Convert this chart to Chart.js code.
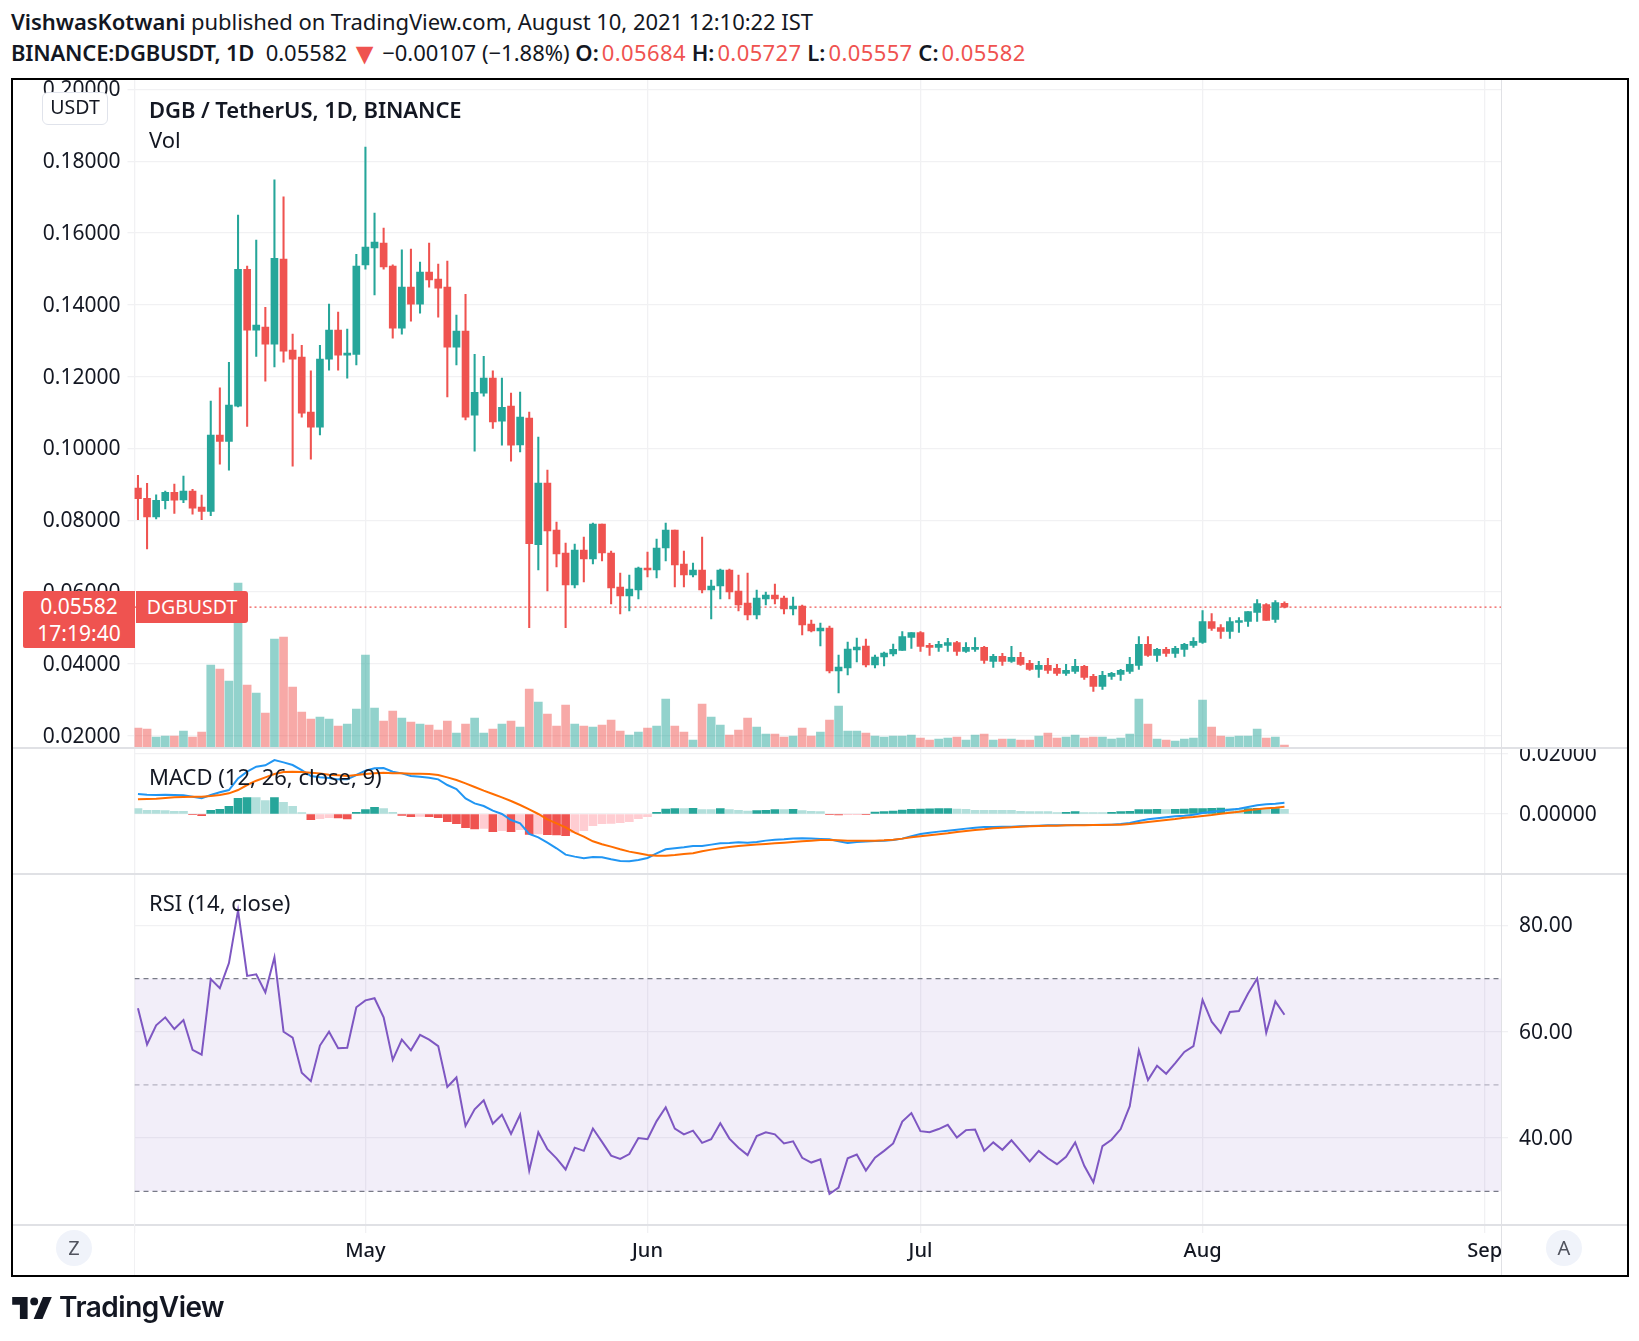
<!DOCTYPE html>
<html>
<head>
<meta charset="utf-8">
<title>DGB / TetherUS</title>
<script src="https://cdn.jsdelivr.net/npm/chart.js@4"></script>
<style>
    html, body { margin: 0; padding: 0; background: #fff; }
    body { width: 1639px; height: 1341px; position: relative; overflow: hidden; font-family: "Noto Sans", sans-serif; color: #131722; }
    canvas { position: absolute; left: 12px; }
    .txt { position: absolute; white-space: nowrap; line-height: 1; }
    .b { font-weight: 600; }
    .r { color: #ef5350; letter-spacing: 0.4px; }
    .lab { font-weight: 600; margin-right: 3px; }
    .tri { color: #ef5350; font-size: 30px; line-height: 0; vertical-align: -3px; margin: 0 -3px 0 -3px; }
    .frame { position: absolute; left: 11px; top: 78px; width: 1614px; height: 1195px; border: 2.5px solid #000; pointer-events: none; }
    .sep { position: absolute; background: #e0e1e5; }
    .round { position: absolute; width: 36px; height: 36px; border-radius: 18px; background: #f0f3fa; color: #50535e; font-size: 20px; line-height: 36px; text-align: center; top: 1230px; }
</style>
</head>
<body>
<div class="txt" style="left:11px;top:10px;font-size:22px;letter-spacing:-0.05px"><span class="b">VishwasKotwani</span> published on TradingView.com, August 10, 2021 12:10:22 IST</div>
<div class="txt" style="left:11px;top:41px;font-size:22px"><span class="b" style="letter-spacing:-0.2px">BINANCE:DGBUSDT, 1D</span>&nbsp; 0.05582 <span class="tri">▼</span> −0.00107 (−1.88%) <span class="lab">O:</span><span class="r">0.05684</span> <span class="lab">H:</span><span class="r">0.05727</span> <span class="lab">L:</span><span class="r">0.05557</span> <span class="lab">C:</span><span class="r">0.05582</span></div>

<canvas id="mainPane" width="1615" height="668" style="top:79px"></canvas>
<canvas id="macdPane" width="1615" height="126" style="top:747px"></canvas>
<canvas id="rsiPane" width="1615" height="402" style="top:873px"></canvas>

<div class="sep" style="left:12px;top:747px;width:1615px;height:1.5px"></div>
<div class="sep" style="left:12px;top:873px;width:1615px;height:1.5px"></div>
<div class="sep" style="left:12px;top:1224px;width:1615px;height:1.5px"></div>
<div class="sep" style="left:1501px;top:79px;width:1px;height:1196px"></div>
<div class="sep" style="left:134px;top:1224px;width:1px;height:51px;background:#f1f1f3"></div>

<div class="txt b" style="left:149px;top:98px;font-size:22px;letter-spacing:-0.08px">DGB / TetherUS, 1D, BINANCE</div>
<div class="txt" style="left:149px;top:128px;font-size:22px">Vol</div>
<div class="txt" style="left:149px;top:765px;font-size:22px">MACD (12, 26, close, 9)</div>
<div class="txt" style="left:149px;top:891px;font-size:22px">RSI (14, close)</div>

<div class="txt" style="left:42px;top:92px;width:64px;height:31px;line-height:27px;text-align:center;font-size:19.5px;background:#fff;border:1px solid #e0e3eb;border-radius:6px;box-sizing:content-box">USDT</div>

<div class="txt" style="left:23px;top:591px;width:112px;height:57px;background:#ef5350;color:#fff;border-radius:2px 0 0 2px;text-align:center;font-size:21px;line-height:27px;padding-top:2px;box-sizing:border-box">0.05582<br>17:19:40</div>
<div class="txt" style="left:136px;top:591px;width:112px;height:32px;background:#ef5350;color:#fff;border-radius:0 3px 3px 0;text-align:center;font-size:19.5px;line-height:31px">DGBUSDT</div>

<div class="round" style="left:56px">Z</div>
<div class="round" style="left:1546px">A</div>

<svg style="position:absolute;left:11px;top:1297px" width="42" height="22" viewBox="0 0 36 20">
    <path d="M0 0h14v20H7V7H0z" fill="#131722"/>
    <circle cx="20" cy="4" r="3.6" fill="#131722"/>
    <path d="M28 0h8l-8.5 20h-8z" fill="#131722"/>
</svg>
<div class="txt" style="left:59px;top:1293px;font-size:28px;font-weight:600;font-family:Inter,sans-serif;letter-spacing:-0.5px">TradingView</div>

<div class="frame"></div>

<script>
// =================== chart data =======================
const opens = [
    .08898, .08612, .08094, .08546, .08777, .08568, .08811, .08369, .08248, .10375,
    .10199, .11179, .14992, .13295, .13383, .12909, .15278, .12744, .12546, .11014,
    .10595, .12490, .13295, .12601, .12623, .15113, .15587, .15719, .15080, .13350,
    .14496, .14022, .14915, .14716, .14496, .12821, .13273, .10926, .11543, .11962,
    .10761, .11179, .10097, .10849, .07321, .09038, .07729, .07088, .06197, .07172,
    .06921, .07896, .07088, .06141, .05891, .06058, .06671, .06615, .07228, .07729,
    .06782, .06476, .06615, .06058, .06169, .06615, .06030, .05696, .05361, .05807,
    .05918, .05835, .05528, .05612, .05111, .04916, .04999, .03801, .03885, .04386,
    .04498, .03969, .04191, .04275, .04375, .04736, .04875, .04514, .04459, .04514,
    .04597, .04348, .04403, .04459, .04070, .04209, .04070, .04181, .04014, .03848,
    .03959, .03875, .03736, .03792, .03931, .03653, .03375, .03653, .03709, .03792,
    .03959, .04542, .04236, .04403, .04292, .04403, .04514, .04597, .05181, .05014,
    .04903, .05153, .05181, .05431, .05653, .05236, .05684
];
const highs = [
    .09251, .09030, .08711, .08811, .09009, .09229, .08865, .08700, .11323, .11687,
    .12402, .16502, .15080, .15807, .13934, .17482, .17008, .13184, .12876, .12160,
    .12876, .14022, .13802, .13328, .15411, .18397, .16557, .16138, .15113, .15532,
    .15554, .15191, .15719, .15135, .15223, .13714, .14297, .12623, .12568, .12160,
    .11962, .11543, .11573, .11016, .10320, .09400, .07952, .07367, .07339, .07534,
    .07924, .07896, .07144, .06531, .06476, .06698, .07116, .07478, .07924, .07729,
    .07144, .06810, .07534, .06336, .06643, .06643, .06476, .06531, .06058, .06002,
    .06225, .05891, .05863, .05640, .05222, .05139, .05055, .04247, .04609, .04721,
    .04693, .04247, .04331, .04554, .04903, .04875, .04903, .04570, .04625, .04709,
    .04625, .04597, .04736, .04486, .04264, .04292, .04486, .04320, .04098, .04070,
    .04153, .03986, .03986, .04125, .03959, .03709, .03792, .03764, .03848, .04181,
    .04764, .04764, .04431, .04459, .04486, .04570, .04736, .05486, .05403, .05097,
    .05292, .05292, .05459, .05792, .05681, .05764, .05727
];
const lows = [
    .08017, .07201, .08039, .08315, .08193, .08491, .08171, .08017, .08127, .09560,
    .09395, .11158, .10618, .12568, .11874, .12270, .12402, .09504, .10871, .09703,
    .10375, .12182, .12182, .11962, .12326, .14992, .14276, .14992, .13075, .13184,
    .13548, .13769, .14496, .13658, .11433, .12326, .10794, .09923, .11455, .10562,
    .10089, .09648, .09902, .05009, .06615, .06030, .06698, .05009, .06113, .06281,
    .06782, .06866, .05668, .05389, .05473, .05807, .06420, .06392, .06866, .06141,
    .06141, .06420, .05974, .05250, .05807, .05807, .05473, .05222, .05250, .05640,
    .05668, .05389, .05361, .04804, .04888, .04498, .03746, .03189, .03690, .04052,
    .03913, .03885, .03941, .04219, .04375, .04431, .04348, .04236, .04348, .04348,
    .04236, .04320, .04348, .04014, .03903, .03959, .04042, .03959, .03820, .03625,
    .03736, .03681, .03681, .03736, .03570, .03236, .03292, .03570, .03542, .03736,
    .03848, .04209, .04070, .04209, .04181, .04209, .04459, .04570, .04931, .04709,
    .04709, .04875, .05042, .05181, .05209, .05153, .05557
];
const closes = [
    .08600, .08094, .08557, .08777, .08557, .08811, .08336, .08248, .10375, .10199,
    .11212, .14992, .13295, .13438, .12909, .15300, .12711, .12490, .10981, .10595,
    .12490, .13295, .12601, .12656, .15080, .15609, .15752, .15058, .13350, .14496,
    .14022, .14915, .14695, .14463, .12821, .13273, .10871, .11565, .11962, .10739,
    .11146, .10089, .10877, .07348, .09038, .07701, .07061, .06197, .07172, .06921,
    .07896, .07088, .06113, .05891, .06086, .06671, .06615, .07228, .07729, .06754,
    .06476, .06615, .06058, .06169, .06615, .06002, .05640, .05361, .05835, .05918,
    .05807, .05528, .05612, .05083, .04916, .04999, .03801, .03913, .04414, .04470,
    .03969, .04191, .04303, .04403, .04764, .04875, .04486, .04459, .04542, .04597,
    .04348, .04459, .04459, .04098, .04209, .04070, .04181, .03986, .03848, .03959,
    .03820, .03736, .03820, .03931, .03625, .03375, .03681, .03736, .03820, .03986,
    .04542, .04236, .04403, .04292, .04431, .04542, .04625, .05181, .04986, .04903,
    .05181, .05209, .05459, .05681, .05209, .05709, .05582
];
const volumes = [
    19, 18, 10, 11, 11, 16, 10, 15, 82, 78,
    66, 164, 62, 54, 34, 108, 110, 60, 35, 28,
    30, 28, 21, 23, 38, 92, 39, 26, 36, 29,
    25, 23, 22, 17, 26, 14, 23, 29, 14, 18,
    23, 26, 20, 58, 45, 33, 21, 42, 23, 21,
    20, 22, 27, 16, 12, 15, 19, 21, 48, 21,
    15, 7, 43, 30, 22, 12, 17, 29, 20, 13,
    13, 10, 11, 19, 11, 15, 27, 41, 16, 16,
    14, 11, 10, 11, 11, 12, 9, 7, 8, 9,
    10, 7, 12, 13, 7, 8, 8, 7, 7, 11,
    14, 9, 10, 12, 9, 10, 10, 8, 9, 13,
    48, 23, 8, 7, 6, 8, 9, 47, 20, 11,
    10, 11, 11, 18, 9, 10, 2
];
const macdLine = [
    .00666, .00644, .00633, .00644, .00633, .00622, .00577, .00522, .00633, .00722,
    .00799, .01188, .01410, .01576, .01621, .01798, .01721, .01632, .01465, .01265,
    .01221, .01199, .01154, .01154, .01299, .01443, .01521, .01532, .01410, .01354,
    .01265, .01243, .01210, .01154, .00966, .00833, .00522, .00355, .00266, .00111,
    0, -.00200, -.00311, -.00666, -.00777, -.00955, -.01143, -.01354, -.01421, -.01476,
    -.01432, -.01443, -.01510, -.01565, -.01576, -.01532, -.01465, -.01310, -.01177, -.01143,
    -.01110, -.01066, -.01066, -.01021, -.00977, -.00966, -.00944, -.00955, -.00932, -.00888,
    -.00855, -.00844, -.00821, -.00810, -.00821, -.00833, -.00844, -.00910, -.00966, -.00932,
    -.00921, -.00899, -.00888, -.00866, -.00821, -.00744, -.00666, -.00622, -.00588, -.00555,
    -.00522, -.00488, -.00455, -.00433, -.00433, -.00422, -.00422, -.00411, -.00400, -.00389,
    -.00377, -.00377, -.00377, -.00366, -.00366, -.00366, -.00355, -.00355, -.00333, -.00300,
    -.00233, -.00178, -.00144, -.00111, -.00078, -.00056, -.00022, .00033, .00078, .00111,
    .00144, .00178, .00233, .00289, .00322, .00344, .00377
];
const signalLine = [
    .00488, .00500, .00511, .00533, .00555, .00566, .00577, .00577, .00599, .00633,
    .00688, .00799, .00966, .01110, .01221, .01332, .01399, .01410, .01399, .01376,
    .01354, .01310, .01288, .01265, .01299, .01332, .01354, .01376, .01354, .01354,
    .01343, .01343, .01332, .01299, .01221, .01132, .01021, .00899, .00777, .00666,
    .00555, .00433, .00300, .00155, 0, -.00178, -.00311, -.00444, -.00622, -.00755,
    -.00910, -.01010, -.01088, -.01177, -.01254, -.01310, -.01365, -.01388, -.01388, -.01365,
    -.01332, -.01310, -.01243, -.01188, -.01143, -.01099, -.01066, -.01043, -.01021, -.00999,
    -.00977, -.00955, -.00932, -.00910, -.00888, -.00866, -.00866, -.00877, -.00888, -.00888,
    -.00888, -.00888, -.00877, -.00855, -.00821, -.00777, -.00744, -.00710, -.00677, -.00644,
    -.00599, -.00566, -.00533, -.00511, -.00477, -.00455, -.00444, -.00422, -.00411, -.00400,
    -.00389, -.00389, -.00377, -.00377, -.00377, -.00366, -.00366, -.00355, -.00355, -.00333,
    -.00300, -.00266, -.00233, -.00200, -.00167, -.00122, -.00100, -.00067, -.00033, .00011,
    .00044, .00078, .00122, .00155, .00189, .00211, .00244
];
const macdHist = [
    .00178, .00122, .00122, .00111, .00089, .00089, -.00022, -.00056, .00122, .00155,
    .00255, .00522, .00544, .00544, .00444, .00544, .00389, .00255, .00044, -.00189,
    -.00155, -.00122, -.00133, -.00167, .00056, .00144, .00222, .00178, .00056, -.00044,
    -.00089, -.00078, -.00089, -.00122, -.00255, -.00322, -.00455, -.00500, -.00477, -.00588,
    -.00555, -.00588, -.00522, -.00677, -.00666, -.00688, -.00699, -.00722, -.00622, -.00555,
    -.00389, -.00322, -.00311, -.00289, -.00255, -.00155, -.00089, .00056, .00167, .00178,
    .00178, .00189, .00144, .00144, .00178, .00144, .00122, .00100, .00111, .00122,
    .00144, .00144, .00155, .00111, .00089, .00078, -.00022, -.00033, -.00011, -.00011,
    -.00022, .00067, .00078, .00100, .00133, .00155, .00167, .00172, .00178, .00183,
    .00167, .00155, .00122, .00122, .00122, .00122, .00122, .00089, .00078, .00078,
    .00078, .00044, .00056, .00078, .00044, .00044, .00044, .00056, .00078, .00089,
    .00144, .00150, .00155, .00144, .00155, .00161, .00178, .00183, .00189, .00200,
    .00178, .00167, .00178, .00189, .00167, .00178, .00155
];
const rsiValues = [
    64.4, 57.6, 61.2, 62.7, 60.5, 62.2, 56.6, 55.7, 69.9, 68.2,
    72.9, 82.8, 70.5, 70.8, 67.4, 74.0, 60.0, 58.9, 52.3, 50.7,
    57.4, 60.0, 56.9, 57.0, 64.6, 65.9, 66.3, 62.7, 54.7, 58.5,
    56.5, 59.4, 58.5, 57.3, 49.6, 51.4, 42.3, 45.4, 47.1, 42.7,
    44.4, 40.8, 44.4, 33.9, 41.1, 37.9, 36.2, 34.1, 38.2, 37.6,
    41.8, 39.3, 36.7, 36.1, 37.0, 40.0, 39.8, 43.2, 45.8, 41.8,
    40.7, 41.4, 39.1, 39.8, 42.8, 39.9, 38.2, 36.8, 40.4, 41.1,
    40.7, 39.0, 39.4, 36.3, 35.4, 36.0, 29.5, 30.7, 36.2, 36.9,
    33.9, 36.3, 37.6, 39.0, 43.1, 44.7, 41.3, 41.1, 41.7, 42.5,
    40.1, 41.5, 41.6, 37.6, 39.2, 37.8, 39.6, 37.6, 35.6, 37.6,
    36.2, 35.1, 36.5, 39.2, 34.8, 31.7, 38.5, 39.7, 41.7, 46.0,
    56.5, 50.9, 53.6, 52.1, 54.1, 56.2, 57.3, 66.0, 61.9, 59.8,
    63.7, 63.9, 67.2, 70.0, 59.8, 65.7, 63.2
];
const lastClose = 0.05582;
const priceTicks = [0.02, 0.04, 0.06, 0.08, 0.10, 0.12, 0.14, 0.16, 0.18, 0.20];
const macdTicks = [0, 0.02];
const rsiTicks = [40, 60, 80];
const rsiBands = { upper: 70, middle: 50, lower: 30 };
// days counted from Apr 6, the first candle
const monthTicks = [25, 56, 86, 117, 148];
const monthLabels = ['May', 'Jun', 'Jul', 'Aug', 'Sep'];
// =================== END CHART DATA ===================

const UP = '#26a69a', DOWN = '#ef5350';
const X_MIN = -0.38, X_MAX = 149.8;
const LEFT_W = 122.5, RIGHT_W = 126;
const GRID = '#f1f1f3', TEXT = '#131722';
const tickFont = { family: '"Noto Sans", sans-serif', size: 21 };

const days = closes.map((_, i) => i);
const series = (values) => values.map((v, i) => ({ x: i, y: v }));
const edgeLine = (v) => [{ x: X_MIN, y: v }, { x: X_MAX, y: v }];

// vertical month gridlines, shared by the three panes
function timeAxis(showLabels) {
    return {
        type: 'linear',
        min: X_MIN,
        max: X_MAX,
        offset: false,
        afterBuildTicks: (s) => { s.ticks = [X_MIN].concat(monthTicks).map(v => ({ value: v })); },
        afterFit: (s) => {
            s.height = showLabels ? 51 : 0;
            s.paddingLeft = 0;
            s.paddingRight = 0;
        },
        border: { display: false },
        grid: { color: GRID, lineWidth: 1.3, drawTicks: showLabels, tickLength: 9, offset: false },
        ticks: {
            display: showLabels,
            autoSkip: false,
            maxRotation: 0,
            padding: 6,
            color: TEXT,
            font: { family: tickFont.family, size: 20, weight: '500' },
            callback: (v) => {
                const idx = monthTicks.indexOf(v);
                return idx >= 0 ? monthLabels[idx] : '';
            }
        }
    };
}

function valueAxis(position, width, ticks, digits) {
    return {
        position: position,
        afterBuildTicks: (s) => { s.ticks = ticks.map(v => ({ value: v })); },
        afterFit: (s) => {
            s.width = width;
            s.paddingTop = 0;
            s.paddingBottom = 0;
        },
        border: { display: false },
        grid: { color: GRID, lineWidth: 1.3, tickLength: 7 },
        ticks: {
            autoSkip: false,
            padding: position === 'left' ? 7 : 11,
            labelOffset: 1,
            color: TEXT,
            font: tickFont,
            callback: (v) => v.toFixed(digits)
        }
    };
}

function baseOptions(padding, scales) {
    return {
        responsive: false,
        animation: false,
        events: [],
        layout: { padding: padding },
        plugins: { legend: { display: false }, tooltip: { enabled: false } },
        scales: scales
    };
}

// Candles and volume
function mainPane() {
    const ctx = document.getElementById('mainPane');
    const colors = closes.map((c, i) => (c >= opens[i] ? UP : DOWN));
    const priceAxis = valueAxis('left', LEFT_W, priceTicks, 5);
    priceAxis.min = 0.01685;
    priceAxis.max = 0.20292;
    return new Chart(ctx, {
        data: {
            datasets: [
                {
                    type: 'bar', label: 'Vol', yAxisID: 'yVol', grouped: false, order: 4,
                    data: days.map(i => ({ x: i, y: volumes[i] })),
                    backgroundColor: colors.map(c => c + '80'),
                    barThickness: 8
                },
                {
                    type: 'line', label: 'Last', yAxisID: 'y', order: 3,
                    data: edgeLine(lastClose),
                    borderColor: DOWN, borderWidth: 1.3, borderDash: [2, 3], pointRadius: 0
                },
                {
                    type: 'bar', label: 'Wick', yAxisID: 'y', grouped: false, order: 2,
                    data: days.map(i => ({ x: i, y: [lows[i], highs[i]] })),
                    backgroundColor: colors,
                    barThickness: 1.4
                },
                {
                    type: 'bar', label: 'Body', yAxisID: 'y', grouped: false, order: 1,
                    data: days.map(i => ({ x: i, y: [opens[i], closes[i]] })),
                    backgroundColor: colors,
                    barThickness: 7,
                    minBarLength: 2
                }
            ]
        },
        options: baseOptions({ right: RIGHT_W }, {
            x: timeAxis(false),
            y: priceAxis,
            yVol: { display: false, min: 0, max: 668 }
        })
    });
}

// Histogram shade follows the direction against the previous bar
function histColor(v, i) {
    const prev = i > 0 ? macdHist[i - 1] : v;
    if (v >= 0) return v > prev ? '#26a69a' : '#b2dfdb';
    return v < prev ? '#ef5350' : '#ffcdd2';
}

function macdPane() {
    const ctx = document.getElementById('macdPane');
    const axis = valueAxis('right', RIGHT_W, macdTicks, 5);
    axis.min = -0.01967;
    axis.max = 0.02233;
    return new Chart(ctx, {
        data: {
            datasets: [
                {
                    type: 'line', label: 'Signal', order: 1,
                    data: series(signalLine),
                    borderColor: '#ff6d00', borderWidth: 2, pointRadius: 0
                },
                {
                    type: 'line', label: 'MACD', order: 2,
                    data: series(macdLine),
                    borderColor: '#2196f3', borderWidth: 2, pointRadius: 0
                },
                {
                    type: 'bar', label: 'Histogram', grouped: false, order: 3,
                    data: series(macdHist),
                    backgroundColor: macdHist.map(histColor),
                    barThickness: 8
                }
            ]
        },
        options: baseOptions({ left: LEFT_W }, { x: timeAxis(false), y: axis })
    });
}

function rsiPane() {
    const ctx = document.getElementById('rsiPane');
    const axis = valueAxis('right', RIGHT_W, rsiTicks, 2);
    axis.min = 23.85;
    axis.max = 89.84;
    const dashed = { type: 'line', borderColor: '#787b86', borderWidth: 1.2, borderDash: [5, 4], pointRadius: 0 };
    return new Chart(ctx, {
        data: {
            datasets: [
                {
                    type: 'line', label: 'RSI', order: 1,
                    data: series(rsiValues),
                    borderColor: '#7e57c2', borderWidth: 2, pointRadius: 0
                },
                Object.assign({}, dashed, { label: 'Upper', order: 2, data: edgeLine(rsiBands.upper),
                    fill: { target: 2 }, backgroundColor: 'rgba(126, 87, 194, 0.1)' }),
                Object.assign({}, dashed, { label: 'Lower', order: 3, data: edgeLine(rsiBands.lower) }),
                Object.assign({}, dashed, { label: 'Middle', order: 4, data: edgeLine(rsiBands.middle),
                    borderColor: 'rgba(120, 123, 134, 0.5)' })
            ]
        },
        options: baseOptions({ left: LEFT_W }, { x: timeAxis(true), y: axis })
    });
}

mainPane();
macdPane();
rsiPane();
</script>
</body>
</html>
